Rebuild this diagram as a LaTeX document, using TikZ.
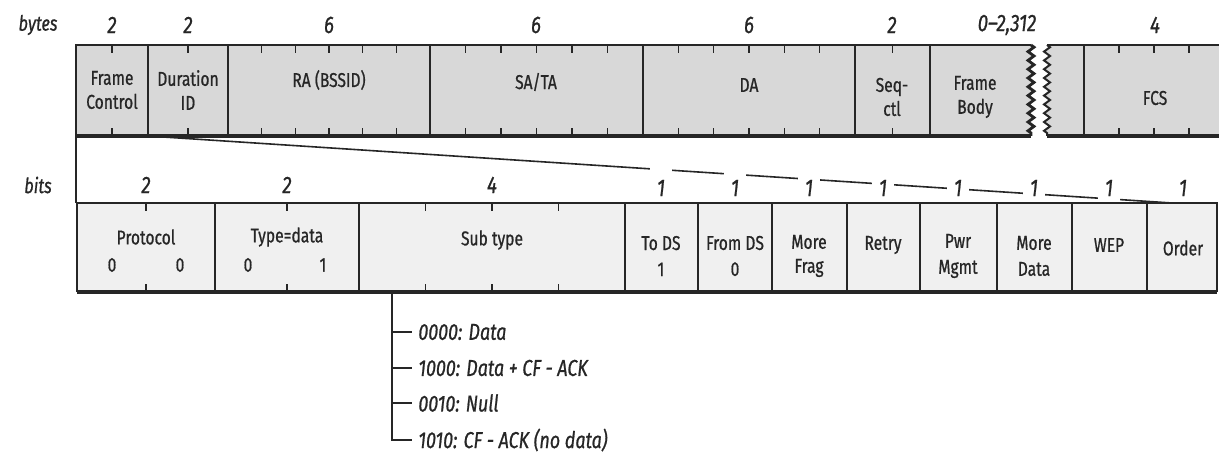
\documentclass[tikz,border=0pt]{standalone}
\usepackage{fontspec}
\setmainfont{Fira Sans}[FakeStretch=0.78, FakeBold=0.8]
\usetikzlibrary{decorations.pathmorphing}
\definecolor{ScanInk}{HTML}{262626}
\definecolor{ScanGray}{HTML}{D8D8D8}
\definecolor{ScanLight}{HTML}{F0F0F0}

\tikzset{
  field/.style={font=\fontsize{10}{12}\selectfont, align=center, text=ScanInk, inner sep=1pt},
  count/.style={font=\fontsize{12}{13}\selectfont\itshape, text=ScanInk, inner sep=1pt},
  unitlabel/.style={font=\fontsize{10.5}{12}\selectfont\itshape, text=ScanInk, inner sep=1pt},
  subcode/.style={font=\fontsize{11.5}{13}\selectfont\itshape, text=ScanInk, anchor=west, inner sep=3pt},
  edge/.style={ScanInk, line width=1pt},
  shadow/.style={ScanInk, line width=1.8pt},
  tick/.style={ScanInk, line width=0.8pt},
  zzdeco/.style={decoration={zigzag, segment length=4.4pt, amplitude=1.5pt}},
}

\begin{document}
\begin{tikzpicture}[x=0.5pt, y=-0.5pt]
  \useasboundingbox (0,0) rectangle (1219,454);

  % Frame header (bytes)
  \fill[ScanGray] (76,45) -- (1031,45) decorate[zzdeco] {-- (1031,136)} -- (76,136) -- cycle;
  \fill[ScanGray] (1219,45) -- (1047,45) decorate[zzdeco] {-- (1047,136)} -- (1219,136) -- cycle;
  \draw[edge] (1031,45) -- (76,45) -- (76,203);
  \draw[edge] (1219,45) -- (1047,45);
  \draw[edge, line width=1.4pt, decorate, zzdeco] (1031,45) -- (1031,136);
  \draw[edge, decorate, zzdeco] (1047,45) -- (1047,136);
  \draw[shadow] (76,136) -- (1031,136);
  \draw[shadow] (1047,136) -- (1219,136);
  \foreach \x in {148,228,430,643,855,930,1084}
    \draw[edge] (\x,45) -- (\x,136);
  \foreach \a/\b/\n in {76/148/2, 148/228/2, 228/430/6, 430/643/6, 643/855/6, 855/930/2, 1084/1224/4} {
    \pgfmathtruncatemacro\m{\n-1}
    \foreach \k in {1,...,\m} {
      \draw[tick] ({\a+(\b-\a)*\k/\n},45) -- ++(0,8);
      \draw[tick] ({\a+(\b-\a)*\k/\n},136) -- ++(0,-8);
    }
  }

  \node[field] (fc) at (112,90) {Frame\\Control};
  \node[field] (dur) at (188,90) {Duration\\ID};
  \node[field] (ra) at (329,80) {RA (BSSID)};
  \node[field] (sata) at (536,82) {SA/TA};
  \node[field] (da) at (749,85) {DA};
  \node[field] (seq) at (892,97) {Seq-\\ctl};
  \node[field] (body) at (975,97) {Frame\\Body};
  \node[field] (fcs) at (1155,98) {FCS};

  \node[unitlabel] (bytes) at (38,25) {bytes};
  \foreach \x/\t [count=\i] in {112/2, 188/2, 329/6, 536/6, 749/6, 892/2, 1007/{0--2,312}, 1155/4}
    \node[count] (nbyte\i) at (\x,25) {\t};

  % Frame control expanded (bits)
  \coordinate (fcse) at (148,136);
  \coordinate (orderne) at (1172,203);
  \draw[tick] (fcse) -- (orderne);
  \foreach \x [count=\i] in {661,735,809,883,958,1034,1109,1183}
    \node[count, fill=white, minimum width=11pt, minimum height=20pt] (nbit\i) at (\x,188) {1};
  \node[count] (nproto) at (146,185) {2};
  \node[count] (ntype) at (287,185) {2};
  \node[count] (nsub) at (492,185) {4};
  \node[unitlabel] (bits) at (38,185) {bits};

  \fill[ScanLight] (77,203) rectangle (1217,292);
  \draw[edge] (77,292) -- (77,203) -- (1217,203) -- (1217,292);
  \draw[shadow] (77,292) -- (1217,292);
  \foreach \x in {215,359,625,698,772,847,920,997,1072,1147}
    \draw[edge] (\x,203) -- (\x,292);
  \foreach \a/\b/\n in {77/215/2, 215/359/2, 359/625/4} {
    \pgfmathtruncatemacro\m{\n-1}
    \foreach \k in {1,...,\m} {
      \draw[tick] ({\a+(\b-\a)*\k/\n},203) -- ++(0,8);
      \draw[tick] ({\a+(\b-\a)*\k/\n},292) -- ++(0,-8);
    }
  }

  \node[field] (proto) at (146,237) {Protocol};
  \node[field] (p0) at (112,265) {0};
  \node[field] (p1) at (180,265) {0};
  \node[field] (type) at (287,237) {Type=data};
  \node[field] (t0) at (248,265) {0};
  \node[field] (t1) at (323,265) {1};
  \node[field] (sub) at (492,240) {Sub type};
  \node[field] (tods) at (661,256) {To DS\\[1pt]1};
  \node[field] (fromds) at (735,256) {From DS\\[1pt]0};
  \node[field] (frag) at (809,256) {More\\Frag};
  \node[field] (retry) at (883,245) {Retry};
  \node[field] (pwr) at (958,256) {Pwr\\[1pt]Mgmt};
  \node[field] (more) at (1034,256) {More\\[1pt]Data};
  \node[field] (wep) at (1109,245) {WEP};
  \node[field] (order) at (1183,248) {Order};

  % Sub type values
  \coordinate (tree) at (392,292);
  \node[subcode] (st1) at (412,332) {0000: Data};
  \node[subcode] (st2) at (412,368) {1000: Data + CF - ACK};
  \node[subcode] (st3) at (412,403) {0010: Null};
  \node[subcode] (st4) at (412,440) {1010: CF - ACK (no data)};
  \draw[tick] (tree) |- (st4.west);
  \foreach \s in {st1,st2,st3}
    \draw[tick] (tree |- \s.west) -- (\s.west);
\end{tikzpicture}
\end{document}
